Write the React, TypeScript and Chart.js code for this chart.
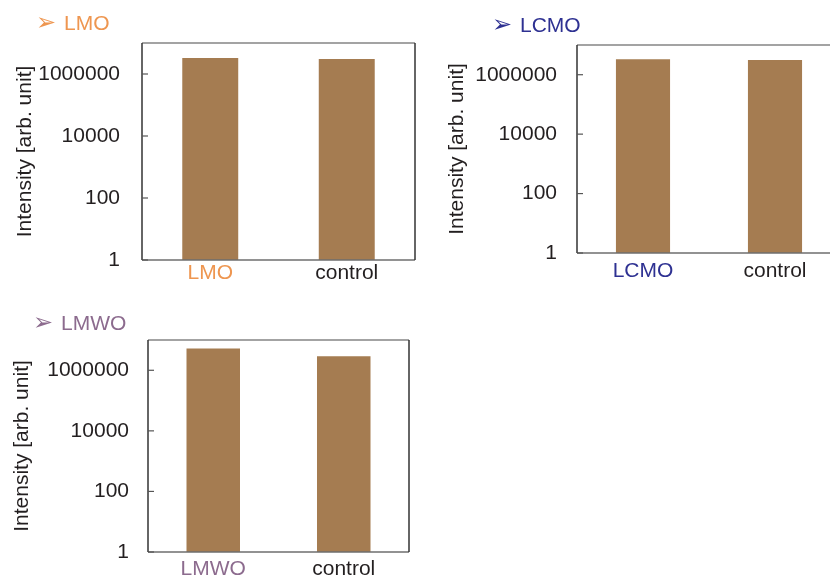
import React, { useEffect, useRef } from "react";
import { Chart, registerables } from "chart.js";

Chart.register(...registerables);

// ---- data ----
const lmoCategories = ["LMO", "control"];
const lmoValues = [3.3e6, 3.05e6];

const lcmoCategories = ["LCMO", "control"];
const lcmoValues = [3.3e6, 3.1e6];

const lmwoCategories = ["LMWO", "control"];
const lmwoValues = [5.2e6, 2.9e6];

const yTickValues = [1, 100, 10000, 1000000];
const yAxisMin = 1;
const yAxisMax = 1e7;
const yAxisTitle = "Intensity [arb. unit]";

const FONT = '"Liberation Sans", Arial, sans-serif';
const TEXT = "#231f20";
const BAR = "#a57c51";

type PanelProps = {
  heading: string;
  headingColor: string;
  categories: string[];
  values: number[];
  left: number;
  top: number;
  width: number;
  height: number;
  axisWidth: number;
  xAxisHeight: number;
  padTop: number;
  padRight: number;
  tickPad: number;
  titlePad: number;
  xLabelPad: number;
  arrowX: number;
  textX: number;
  headY: number;
};

const decoPlugin = {
  id: "panelDeco",
  afterDraw(chart: any, _args: any, opts: any) {
    const { ctx, chartArea: a } = chart;
    const line = (x1: number, y1: number, x2: number, y2: number) => {
      ctx.beginPath();
      ctx.moveTo(x1, y1);
      ctx.lineTo(x2, y2);
      ctx.stroke();
    };
    ctx.save();
    ctx.lineWidth = 1.5;
    ctx.strokeStyle = "#858585";
    line(a.left, a.top, a.right, a.top);
    ctx.strokeStyle = "#6e6e6e";
    line(a.left, a.bottom, a.right, a.bottom);
    ctx.strokeStyle = "#333333";
    line(a.left, a.top, a.left, a.bottom);
    line(a.right, a.top, a.right, a.bottom);
    ctx.lineWidth = 1.2;
    ctx.strokeStyle = "#555555";
    const ys = chart.scales.y;
    ys.ticks.forEach((t: any) => {
      const y = ys.getPixelForValue(t.value);
      line(a.left, y, a.left + 6, y);
    });
    ctx.fillStyle = opts.color;
    ctx.textBaseline = "middle";
    ctx.textAlign = "left";
    ctx.font = '24px "DejaVu Sans"';
    ctx.fillText("\u27A2", opts.arrowX, opts.y);
    ctx.font = "21px " + FONT;
    ctx.fillText(opts.text, opts.textX, opts.y);
    ctx.restore();
  },
};

function Panel(p: PanelProps) {
  const ref = useRef<HTMLCanvasElement | null>(null);
  useEffect(() => {
    if (!ref.current) return;
    const font = { size: 21, family: FONT };
    const chart = new Chart(ref.current, {
      type: "bar",
      data: {
        labels: p.categories,
        datasets: [
          {
            data: p.values,
            backgroundColor: BAR,
            barPercentage: 0.41,
            categoryPercentage: 1,
          },
        ],
      },
      options: {
        responsive: false,
        animation: false,
        layout: { padding: { top: p.padTop, right: p.padRight, left: 0, bottom: 0 } },
        plugins: {
          legend: { display: false },
          tooltip: { enabled: false },
          panelDeco: {
            color: p.headingColor,
            text: p.heading,
            arrowX: p.arrowX,
            textX: p.textX,
            y: p.headY,
          },
        } as any,
        scales: {
          x: {
            grid: { display: false, drawTicks: false },
            border: { display: false },
            ticks: {
              padding: p.xLabelPad,
              font,
              color: (c: any) => (c.index === 0 ? p.headingColor : TEXT),
            },
            afterFit: (s: any) => {
              s.height = p.xAxisHeight;
              s.paddingLeft = 0;
              s.paddingRight = 0;
            },
          },
          y: {
            type: "logarithmic",
            min: yAxisMin,
            max: yAxisMax,
            grid: { display: false, drawTicks: false },
            border: { display: false },
            afterBuildTicks: (s: any) => {
              s.ticks = yTickValues.map((v) => ({ value: v }));
            },
            afterFit: (s: any) => {
              s.width = p.axisWidth;
              s.paddingTop = 0;
              s.paddingBottom = 0;
            },
            ticks: {
              autoSkip: false,
              padding: p.tickPad,
              font,
              color: TEXT,
              callback: (v: any) => String(v),
            },
            title: {
              display: true,
              text: yAxisTitle,
              font,
              color: TEXT,
              padding: { top: p.titlePad, bottom: 0 },
            },
          },
        },
      } as any,
      plugins: [decoPlugin],
    });
    return () => chart.destroy();
  }, []);
  return (
    <canvas
      ref={ref}
      width={p.width}
      height={p.height}
      style={{ position: "absolute", left: p.left, top: p.top, width: p.width, height: p.height }}
    />
  );
}

export default function App() {
  return (
    <div
      style={{
        position: "fixed",
        left: 0,
        top: 0,
        width: 830,
        height: 577,
        overflow: "hidden",
        background: "#fff",
      }}
    >
      <Panel
        heading="LMO"
        headingColor="#ee9650"
        categories={lmoCategories}
        values={lmoValues}
        left={0}
        top={0}
        width={420}
        height={290}
        axisWidth={142}
        xAxisHeight={30}
        padTop={43}
        padRight={5}
        tickPad={22}
        titlePad={13}
        xLabelPad={1}
        arrowX={36}
        textX={64}
        headY={24}
      />
      <Panel
        heading="LCMO"
        headingColor="#2e3192"
        categories={lcmoCategories}
        values={lcmoValues}
        left={420}
        top={0}
        width={430}
        height={290}
        axisWidth={157}
        xAxisHeight={37}
        padTop={45}
        padRight={9}
        tickPad={20}
        titlePad={25}
        xLabelPad={6}
        arrowX={72}
        textX={100}
        headY={26}
      />
      <Panel
        heading="LMWO"
        headingColor="#8c6b8e"
        categories={lmwoCategories}
        values={lmwoValues}
        left={0}
        top={300}
        width={420}
        height={277}
        axisWidth={148}
        xAxisHeight={25}
        padTop={40}
        padRight={11}
        tickPad={19}
        titlePad={10}
        xLabelPad={5}
        arrowX={33}
        textX={61}
        headY={24}
      />
    </div>
  );
}
